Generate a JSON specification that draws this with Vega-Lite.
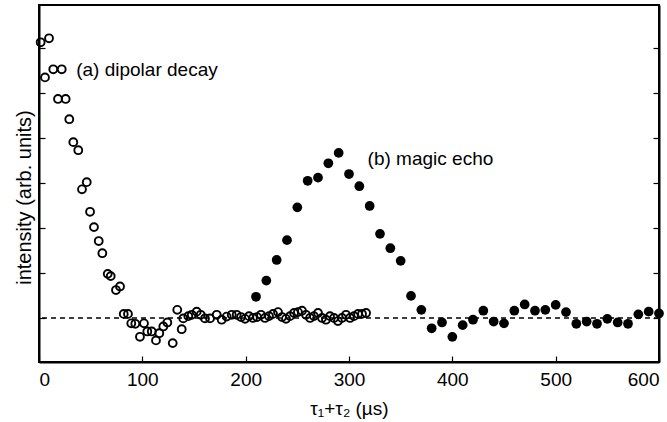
{
  "$schema": "https://vega.github.io/schema/vega-lite/v6.json",
  "width": 620,
  "height": 357,
  "autosize": "none",
  "padding": {"left": 39, "top": 5, "right": 8, "bottom": 60},
  "background": "white",
  "config": {
    "view": {"stroke": "black", "strokeWidth": 2},
    "font": "Liberation Sans",
    "axis": {"grid": false, "domainColor": "black", "domainWidth": 2, "tickColor": "black", "tickWidth": 1.2, "labelColor": "black", "titleColor": "black", "labelFont": "Liberation Sans", "titleFont": "Liberation Sans", "titleFontWeight": "normal"}
  },
  "datasets": {
    "dipolar": [
      {"t": 1.6, "v": 6.13}, {"t": 5.8, "v": 5.35}, {"t": 9.7, "v": 6.22}, {"t": 13.8, "v": 5.53},
      {"t": 18.4, "v": 4.87}, {"t": 22.0, "v": 5.53}, {"t": 25.8, "v": 4.87}, {"t": 29.3, "v": 4.42},
      {"t": 33.2, "v": 3.91}, {"t": 38.0, "v": 3.73}, {"t": 41.6, "v": 2.86}, {"t": 46.2, "v": 3.02},
      {"t": 49.4, "v": 2.36}, {"t": 53.2, "v": 2.02}, {"t": 57.8, "v": 1.71}, {"t": 61.3, "v": 1.44},
      {"t": 66.5, "v": 0.98}, {"t": 69.4, "v": 0.93}, {"t": 74.5, "v": 0.62}, {"t": 78.4, "v": 0.70},
      {"t": 82.0, "v": 0.09}, {"t": 86.1, "v": 0.09}, {"t": 89.3, "v": -0.12}, {"t": 93.2, "v": -0.13},
      {"t": 97.7, "v": -0.42}, {"t": 101.6, "v": -0.12}, {"t": 104.8, "v": -0.30}, {"t": 109.1, "v": -0.30},
      {"t": 113.2, "v": -0.50}, {"t": 116.4, "v": -0.34}, {"t": 120.3, "v": -0.19}, {"t": 124.2, "v": -0.10},
      {"t": 129.4, "v": -0.56}, {"t": 133.8, "v": 0.18}, {"t": 138.1, "v": -0.25}, {"t": 139.6, "v": -0.01},
      {"t": 144.5, "v": 0.04}, {"t": 147.8, "v": 0.07}, {"t": 152.6, "v": 0.14}, {"t": 156.5, "v": 0.07},
      {"t": 160.6, "v": -0.01}, {"t": 165.5, "v": -0.01}, {"t": 172.0, "v": 0.07}, {"t": 176.8, "v": -0.04},
      {"t": 181.6, "v": 0.03}, {"t": 186.5, "v": 0.07}, {"t": 191.3, "v": 0.07}, {"t": 195.5, "v": 0.02},
      {"t": 199.4, "v": -0.02}, {"t": 203.2, "v": 0.04}, {"t": 207.1, "v": 0.0}, {"t": 211.0, "v": 0.02},
      {"t": 214.8, "v": 0.07}, {"t": 218.7, "v": 0.0}, {"t": 222.6, "v": 0.04}, {"t": 226.5, "v": 0.09},
      {"t": 231.3, "v": 0.13}, {"t": 235.2, "v": 0.02}, {"t": 239.0, "v": -0.02}, {"t": 242.9, "v": 0.04},
      {"t": 246.8, "v": 0.11}, {"t": 250.6, "v": 0.13}, {"t": 254.5, "v": 0.16}, {"t": 258.4, "v": 0.07},
      {"t": 262.3, "v": 0.0}, {"t": 266.1, "v": 0.04}, {"t": 270.0, "v": 0.11}, {"t": 273.9, "v": 0.0},
      {"t": 277.7, "v": -0.04}, {"t": 281.6, "v": 0.04}, {"t": 285.5, "v": 0.0}, {"t": 289.3, "v": -0.07},
      {"t": 293.2, "v": 0.0}, {"t": 297.1, "v": 0.07}, {"t": 301.0, "v": 0.0}, {"t": 304.8, "v": 0.04},
      {"t": 308.7, "v": 0.09}, {"t": 312.6, "v": 0.09}, {"t": 316.5, "v": 0.11}
    ],
    "echo": [
      {"t": 210, "v": 0.47}, {"t": 220, "v": 0.83}, {"t": 230, "v": 1.29}, {"t": 240, "v": 1.73},
      {"t": 250, "v": 2.46}, {"t": 260, "v": 3.05}, {"t": 270, "v": 3.12}, {"t": 280, "v": 3.44},
      {"t": 290, "v": 3.67}, {"t": 300, "v": 3.20}, {"t": 310, "v": 2.93}, {"t": 320, "v": 2.49},
      {"t": 330, "v": 1.87}, {"t": 340, "v": 1.55}, {"t": 350, "v": 1.27}, {"t": 360, "v": 0.49},
      {"t": 370, "v": 0.18}, {"t": 380, "v": -0.23}, {"t": 390, "v": -0.10}, {"t": 400, "v": -0.42},
      {"t": 410, "v": -0.16}, {"t": 420, "v": -0.04}, {"t": 430, "v": 0.16}, {"t": 440, "v": -0.08},
      {"t": 450, "v": -0.12}, {"t": 460, "v": 0.16}, {"t": 470, "v": 0.30}, {"t": 480, "v": 0.16},
      {"t": 490, "v": 0.18}, {"t": 500, "v": 0.29}, {"t": 510, "v": 0.13}, {"t": 520, "v": -0.13},
      {"t": 530, "v": -0.08}, {"t": 540, "v": -0.13}, {"t": 550, "v": -0.02}, {"t": 560, "v": -0.10},
      {"t": 570, "v": -0.13}, {"t": 580, "v": 0.08}, {"t": 590, "v": 0.14}, {"t": 600, "v": 0.10}
    ]
  },
  "resolve": {"axis": {"y": "independent", "x": "independent"}},
  "layer": [
    {
      "data": {"name": "dipolar"},
      "mark": {"type": "point", "shape": "circle", "filled": false, "stroke": "black", "strokeWidth": 1.9, "size": 62, "opacity": 1},
      "encoding": {
        "x": {"field": "t", "type": "quantitative", "scale": {"domain": [0, 600], "nice": false, "zero": false},
          "axis": {"values": [0, 100, 200, 300, 400, 500, 600], "tickSize": -6, "labelPadding": 14, "labelFontSize": 19, "titleFontSize": 19, "title": "τ₁+τ₂ (µs)", "titlePadding": 10}},
        "y": {"field": "v", "type": "quantitative", "scale": {"domain": [-0.98, 6.96], "nice": false, "zero": false},
          "axis": {"orient": "left", "values": [0, 1, 2, 3, 4, 5, 6], "tickSize": -6, "labels": false, "title": "intensity (arb. units)", "titleFontSize": 20, "titleX": -5, "titleY": 192, "titleBaseline": "bottom"}}
      }
    },
    {
      "data": {"name": "echo"},
      "mark": {"type": "circle", "color": "black", "size": 95, "opacity": 1},
      "encoding": {
        "x": {"field": "t", "type": "quantitative", "scale": {"domain": [0, 600], "nice": false, "zero": false}, "axis": null},
        "y": {"field": "v", "type": "quantitative", "scale": {"domain": [-0.98, 6.96], "nice": false, "zero": false},
          "axis": {"orient": "right", "values": [0, 1, 2, 3, 4, 5, 6], "tickSize": -6, "labels": false, "title": null}}
      }
    },
    {
      "data": {"values": [{}]},
      "mark": {"type": "rule", "color": "black", "strokeWidth": 1.5, "strokeDash": [5, 4]},
      "encoding": {
        "y": {"datum": 0, "type": "quantitative", "scale": {"domain": [-0.98, 6.96], "nice": false, "zero": false}, "axis": null}
      }
    },
    {
      "data": {"values": [{"label": "(a) dipolar decay"}]},
      "mark": {"type": "text", "align": "left", "baseline": "middle", "fontSize": 19, "font": "Liberation Sans", "color": "black"},
      "encoding": {
        "x": {"datum": 36, "type": "quantitative", "scale": {"domain": [0, 600], "nice": false, "zero": false}, "axis": null},
        "y": {"datum": 5.51, "type": "quantitative", "scale": {"domain": [-0.98, 6.96], "nice": false, "zero": false}, "axis": null},
        "text": {"field": "label"}
      }
    },
    {
      "data": {"values": [{"label": "(b) magic echo"}]},
      "mark": {"type": "text", "align": "left", "baseline": "middle", "fontSize": 19, "font": "Liberation Sans", "color": "black"},
      "encoding": {
        "x": {"datum": 318, "type": "quantitative", "scale": {"domain": [0, 600], "nice": false, "zero": false}, "axis": null},
        "y": {"datum": 3.53, "type": "quantitative", "scale": {"domain": [-0.98, 6.96], "nice": false, "zero": false}, "axis": null},
        "text": {"field": "label"}
      }
    }
  ]
}
